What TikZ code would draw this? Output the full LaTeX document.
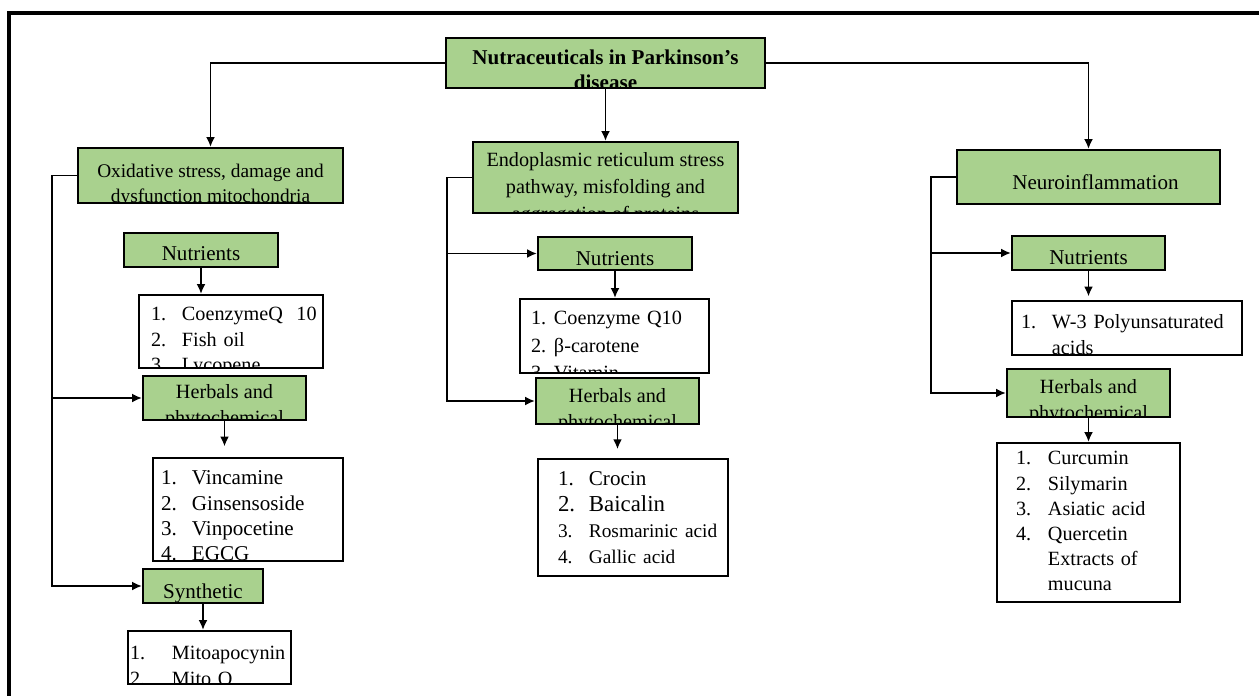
\documentclass[tikz,border=0pt]{standalone}
\usepackage{fontspec}
\setmainfont{Liberation Serif}
\usetikzlibrary{arrows.meta}
\usetikzlibrary{fit}
\definecolor{leafgreen}{RGB}{169,209,142}
\newlength{\pxu}
\setlength{\pxu}{0.5669pt}
\newcommand{\lnum}[2][31]{\makebox[#1\pxu][l]{#2}}
\tikzstyle{box} = [draw, line width=1.3pt, inner sep=0pt]
\tikzstyle{greenbox} = [box, fill=leafgreen]
\tikzstyle{listbox} = [box, fill=white]
\tikzset{
  midtext/.style n args={3}{path picture={
    \node[anchor=base, inner sep=0pt, font={#2}, yshift={-(#1+2)*0.5669pt}]
      at (path picture bounding box.north) {\begin{tabular}[t]{@{}c@{}}#3\end{tabular}};}},
  lefttext/.style n args={4}{path picture={
    \node[anchor=base west, inner sep=0pt, font={#3}, align=left, text width=6cm, xshift={#1*0.5669pt}, yshift={-(#2+2)*0.5669pt}]
      at (path picture bounding box.north west) {#4};}}
}

\begin{document}
\begin{tikzpicture}[x=0.02cm, y=-0.02cm, line width=0.9pt, >={Latex[length=5.5pt,width=5pt]}]
  \useasboundingbox (0,0) rectangle (1259,696);
  \draw[line width=1.8pt] (9,696) -- (9,13) -- (1259,13);

  \node[greenbox, fit={(446,38) (765,88)}, midtext={25}{\fontsize{12}{14.2}\selectfont\bfseries}{Nutraceuticals in Parkinson’s\\disease}] (title) {};
  \node[greenbox, fit={(78,148) (343,203)}, midtext={28}{\fontsize{11}{14.2}\selectfont}{Oxidative stress, damage and\\dysfunction mitochondria}] (ox) {};
  \node[greenbox, fit={(473,142) (738,213)}, midtext={23}{\fontsize{11.5}{15.3}\selectfont}{Endoplasmic reticulum stress\\pathway, misfolding and\\aggregation of proteins}] (er) {};
  \node[greenbox, fit={(957,150) (1220,204)}, midtext={38}{\fontsize{12}{14.4}\selectfont}{\hspace*{14\pxu}Neuroinflammation}] (ni) {};

  \node[greenbox, fit={(124,233) (278,267)}, midtext={26}{\fontsize{12}{14.4}\selectfont}{Nutrients}] (ox_nut) {};
  \node[listbox, fit={(139,295) (323,368)}, lefttext={11}{24}{\fontsize{11.5}{14.4}\selectfont}{\lnum{1.}CoenzymeQ\ \ 10\\\lnum{2.}Fish oil\\\lnum{3.}Lycopene}] (ox_nut_list) {};
  \node[greenbox, fit={(143,376) (306,420)}, midtext={21}{\fontsize{11.5}{14.4}\selectfont}{Herbals and\\phytochemical}] (ox_herb) {};
  \node[listbox, fit={(153,458) (343,561)}, lefttext={7}{25}{\fontsize{12}{14.4}\selectfont}{\lnum{1.}Vincamine\\\lnum{2.}Ginsensoside\\\lnum{3.}Vinpocetine\\\lnum{4.}EGCG}] (ox_herb_list) {};
  \node[greenbox, fit={(143,569) (263,603)}, midtext={28}{\fontsize{12}{14.4}\selectfont}{Synthetic}] (ox_syn) {};
  \node[listbox, fit={(128,631) (291,684)}, lefttext={1}{27}{\fontsize{11.5}{14.4}\selectfont}{\lnum[42]{1.}Mitoapocynin\\\lnum[42]{2.}Mito Q}] (ox_syn_list) {};

  \node[greenbox, fit={(538,237) (692,270)}, midtext={27}{\fontsize{12}{14.4}\selectfont}{Nutrients}] (er_nut) {};
  \node[listbox, fit={(520,299) (709,373)}, lefttext={10}{24}{\fontsize{11.5}{15.5}\selectfont}{\lnum[23]{1.}Coenzyme Q10\\\lnum[23]{2.}β-carotene\\\lnum[23]{3.}Vitamin}] (er_nut_list) {};
  \node[greenbox, fit={(536,378) (699,424)}, midtext={23}{\fontsize{11.5}{14.4}\selectfont}{Herbals and\\phytochemical}] (er_herb) {};
  \node[listbox, fit={(538,459) (728,576)}, lefttext={19}{25}{\fontsize{12}{14.8}\selectfont}{\lnum{1.}Crocin\\{\fontsize{13}{14.8}\selectfont\lnum{2.}Baicalin}\\{\fontsize{11}{14.8}\selectfont\lnum{3.}Rosmarinic acid}\\{\fontsize{11}{14.8}\selectfont\lnum{4.}Gallic acid}}] (er_herb_list) {};

  \node[greenbox, fit={(1012,236) (1165,270)}, midtext={27}{\fontsize{12}{14.4}\selectfont}{Nutrients}] (ni_nut) {};
  \node[listbox, fit={(1012,301) (1242,355)}, lefttext={8}{26}{\fontsize{11.5}{14.7}\selectfont}{\lnum{1.}W-3 Polyunsaturated\\\lnum{}acids}] (ni_nut_list) {};
  \node[greenbox, fit={(1007,369) (1170,417)}, midtext={23}{\fontsize{11.5}{14.4}\selectfont}{Herbals and\\phytochemical}] (ni_herb) {};
  \node[listbox, fit={(997,443) (1180,602)}, lefttext={18}{20}{\fontsize{11.5}{14.3}\selectfont}{\lnum[32]{1.}Curcumin\\\lnum[32]{2.}Silymarin\\\lnum[32]{3.}Asiatic acid\\\lnum[32]{4.}Quercetin\\\lnum[32]{}Extracts of\\\lnum[32]{}mucuna}] (ni_herb_list) {};

  \draw[->] (title.west) -| (ox.north);
  \draw[->] (title.east) -| (ni.north);
  \draw[->] (title.south) -- (er.north);

  \draw[->] (ox.west) -- ++(-25,0) coordinate (ox_bend) |- (ox_syn.west);
  \draw[->] (ox_bend |- ox_herb.west) -- (ox_herb.west);
  \draw[->] (ox_nut.south) -- (ox_nut.south |- ox_nut_list.north);
  \draw[->, shorten >=6pt] (ox_herb.south) -- (ox_herb.south |- ox_herb_list.north);
  \draw[->] (ox_syn.south) -- (ox_syn.south |- ox_syn_list.north);

  \draw[->] (er.west) -- ++(-25,0) coordinate (er_bend) |- (er_herb.west);
  \draw[->] (er_bend |- er_nut.west) -- (er_nut.west);
  \draw[->] (er_nut.south) -- (er_nut.south |- er_nut_list.north);
  \draw[->, shorten >=5pt] (er_herb.south) -- (er_herb.south |- er_herb_list.north);

  \draw[->] (ni.west) -- ++(-25,0) coordinate (ni_bend) |- (ni_herb.west);
  \draw[->] (ni_bend |- ni_nut.west) -- (ni_nut.west);
  \draw[->, shorten >=2pt] (ni_nut.south) -- (ni_nut.south |- ni_nut_list.north);
  \draw[->] (ni_herb.south) -- (ni_herb.south |- ni_herb_list.north);
\end{tikzpicture}
\end{document}
